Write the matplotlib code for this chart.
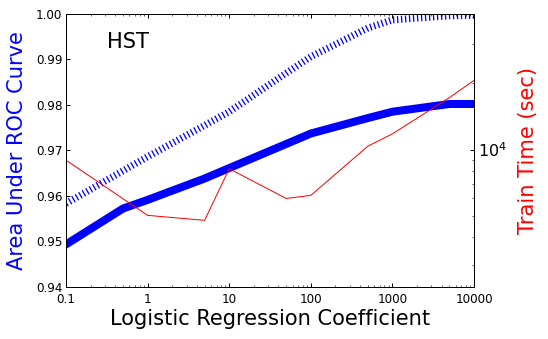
import matplotlib
matplotlib.use("Agg")
import matplotlib.pyplot as plt

# logistic regression coefficient (C)
coef = [0.1, 0.5, 1, 5, 10, 50, 100, 500, 1000, 5000, 10000]
auc_solid = [0.9493, 0.9572, 0.9591, 0.9638, 0.9661, 0.9714, 0.9737, 0.9771, 0.9785, 0.9802, 0.9802]
auc_dotted = [0.9583, 0.9655, 0.9686, 0.9755, 0.9785, 0.9870, 0.9906, 0.9969, 0.9987, 0.9996, 0.9997]

# training time (sec)
time_coef = [0.1, 1, 5, 10, 50, 100, 500, 1000, 5000, 10000]
train_time = [8946, 5027, 4772, 8179, 5998, 6193, 10350, 11776, 17190, 20590]

xticks = [0.1, 1, 10, 100, 1000, 10000]
xticklabels = ["0.1", "1", "10", "100", "1000", "10000"]

plt.rcParams["lines.scale_dashes"] = False
plt.rcParams["xtick.direction"] = "in"
plt.rcParams["ytick.direction"] = "in"
plt.rcParams["xtick.top"] = True

fig = plt.figure(figsize=(548 / 72, 339 / 72), dpi=72)
ax = fig.add_axes([66 / 548, 52.3 / 339, 408 / 548, 272.7 / 339])

ax.plot(coef, auc_solid, color="b", lw=8, solid_joinstyle="round")
ax.plot(coef, auc_dotted, color="b", lw=7, ls=(0, (1.3, 2.7)))
ax.set_xscale("log")
ax.set_xlim(0.1, 10000)
ax.set_ylim(0.94, 1.0)
ax.set_xticks(xticks)
ax.set_xticklabels(xticklabels)
ax.set_yticks([0.94, 0.95, 0.96, 0.97, 0.98, 0.99, 1.00])
ax.tick_params(labelsize=12, length=4, width=1)
ax.tick_params(axis="x", pad=6)
ax.tick_params(which="minor", length=2)
ax.set_xlabel("Logistic Regression Coefficient", fontsize=21, labelpad=3)
ax.set_ylabel("Area Under ROC Curve", fontsize=21, color="b", labelpad=9)
ax.text(0.10, 0.875, "HST", transform=ax.transAxes, fontsize=21)

ax2 = ax.twinx()
ax2.plot(time_coef, train_time, color="r", lw=1)
ax2.set_yscale("log")
ax2.set_ylim(min(train_time) / 2, max(train_time) * 2)
ax2.tick_params(labelsize=16, length=4, width=1)
ax2.tick_params(which="minor", length=2)
ax2.set_ylabel("Train Time (sec)", fontsize=21, color="r", labelpad=11)

for a in (ax, ax2):
    for s in a.spines.values():
        s.set_linewidth(1)

fig.savefig("out.png", dpi=72)
